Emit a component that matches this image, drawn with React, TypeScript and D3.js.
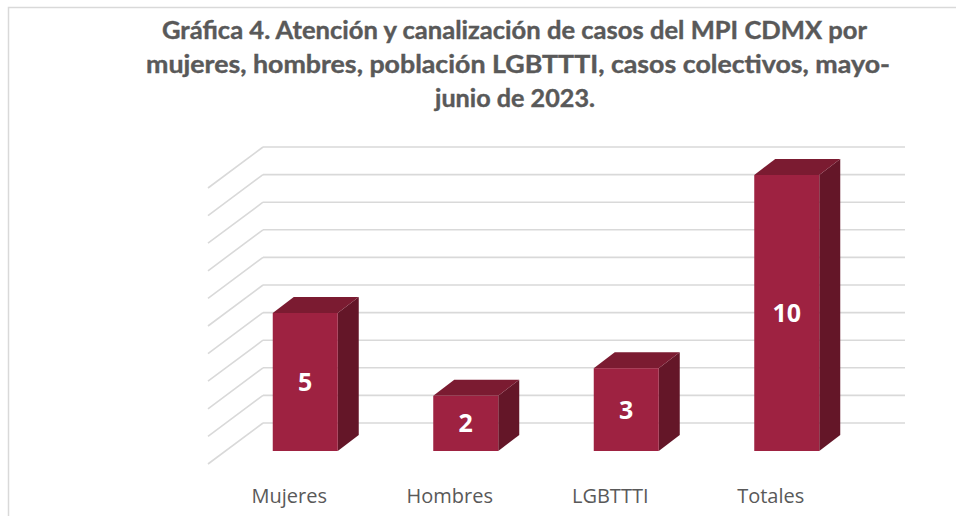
import React from "react";
import * as d3 from "d3";

const categories = ["Mujeres", "Hombres", "LGBTTTI", "Totales"];
const values = [5, 2, 3, 10];
const titleLines = [
  "Gráfica 4. Atención y canalización de casos del MPI CDMX por",
  "mujeres, hombres, población LGBTTTI, casos colectivos, mayo-",
  "junio de 2023.",
];

const W = 956;
const H = 516;

export default function App() {
  // front plane scales
  const x = d3.scaleBand<string>().domain(categories).range([225, 867]).padding(0);
  const y = d3.scaleLinear().domain([0, 10]).range([451, 175]);

  // back wall is shifted up relative to front plane
  const backDy = -28;
  const wallLeft = 263;
  const wallRight = 905;
  const sideDx = -55;
  const sideDy = 41;

  // bar depth
  const depthX = 21;
  const depthY = -16;
  const barW = x.bandwidth() * 0.405;

  const ticks = y.ticks(10);

  const titleFont = "Lato, 'Open Sans', sans-serif";
  const titleY = [39, 73, 107];
  const titleX = [514.5, 518, 515];
  const titleLen = [705, 744, 160];

  return (
    <svg
      width={W}
      height={H}
      style={{ position: "absolute", left: 0, top: 0, background: "#fff" }}
    >
      <rect x={8.5} y={7.5} width={1100} height={700} fill="#fff" stroke="#d9d9d9" strokeWidth={1.5} />

      {titleLines.map((t, i) => (
        <text
          key={i}
          x={titleX[i]}
          y={titleY[i]}
          textAnchor="middle"
          fontFamily={titleFont}
          fontWeight={700}
          fontSize={24.5}
          fill="#595959"
          stroke="#595959"
          strokeWidth={0.4}
          textLength={titleLen[i]}
          lengthAdjust="spacingAndGlyphs"
        >
          {t}
        </text>
      ))}

      {/* gridlines: back wall + side wall */}
      <g stroke="#d9d9d9" strokeWidth={1.6} fill="none">
        {ticks.map((t) => {
          const yb = y(t) + backDy;
          return (
            <g key={t}>
              <line x1={wallLeft} x2={wallRight} y1={yb} y2={yb} />
              <line x1={wallLeft} y1={yb} x2={wallLeft + sideDx} y2={yb + sideDy} />
            </g>
          );
        })}
      </g>

      {/* bars */}
      {categories.map((c, i) => {
        const cx = (x(c) as number) + x.bandwidth() / 2;
        const x0 = cx - barW / 2;
        const x1 = cx + barW / 2;
        const yTop = y(values[i]);
        const yBot = y(0);
        const top = `${x0},${yTop} ${x0 + depthX},${yTop + depthY} ${x1 + depthX},${yTop + depthY} ${x1},${yTop}`;
        const side = `${x1},${yTop} ${x1 + depthX},${yTop + depthY} ${x1 + depthX},${yBot + depthY} ${x1},${yBot}`;
        return (
          <g key={c}>
            <polygon points={side} fill="#641628" />
            <polygon points={top} fill="#7b1b31" />
            <rect x={x0} y={yTop} width={barW} height={yBot - yTop} fill="#9e2241" />
            <text
              x={cx}
              y={(yTop + yBot) / 2}
              dy="0.36em"
              textAnchor="middle"
              fontFamily="'Open Sans', sans-serif"
              fontWeight={700}
              fontSize={25}
              fill="#fff"
            >
              {values[i]}
            </text>
            <text
              x={cx - 16}
              y={503}
              textAnchor="middle"
              fontFamily="'Open Sans', sans-serif"
              fontSize={20}
              fill="#595959"
            >
              {c}
            </text>
          </g>
        );
      })}
    </svg>
  );
}
